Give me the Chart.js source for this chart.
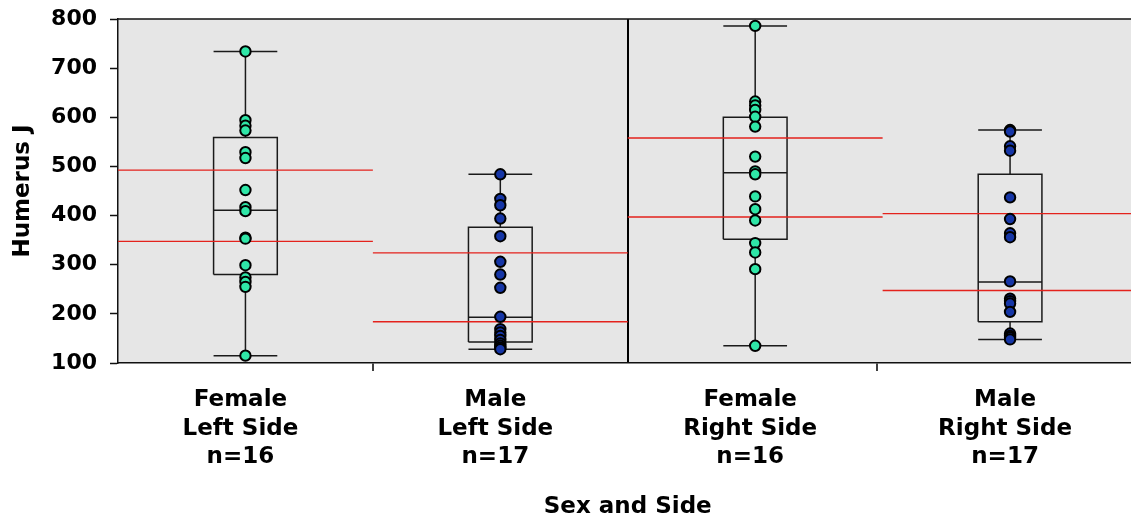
<!DOCTYPE html>
<html>
<head>
<meta charset="utf-8">
<title>Humerus J by sex and side</title>
<script src="https://cdn.jsdelivr.net/npm/chart.js@4/dist/chart.umd.min.js"></script>
<style>
  html, body { margin: 0; padding: 0; background: #ffffff; }
  #wrap { width: 1131px; height: 516px; }
</style>
</head>
<body>
<div id="wrap"><canvas id="chart" width="1131" height="516"></canvas></div>
<script>
// Groups along the x axis
const categories = [
  ['Female', 'Left Side', 'n=16'],
  ['Male', 'Left Side', 'n=17'],
  ['Female', 'Right Side', 'n=16'],
  ['Male', 'Right Side', 'n=17']
];

// Individual observations per group
const femaleLeft  = [734, 594, 583, 573, 529, 517, 452, 417, 409, 355, 353, 299, 274, 265, 255, 115];
const maleLeft    = [484, 434, 421, 394, 358, 306, 280, 253, 194, 169, 162, 155, 147, 140, 135, 131, 128];
const femaleRight = [786, 632, 624, 615, 601, 581, 520, 490, 484, 439, 413, 390, 344, 325, 291, 135];
const maleRight   = [574, 571, 541, 532, 437, 393, 364, 356, 266, 231, 226, 221, 204, 160, 155, 152, 148];

// Box summaries per group
const whiskerLow  = [115, 128, 135, 148];
const quartile1   = [280, 142.6, 352, 184];
const medians     = [411, 193, 487, 265];
const quartile3   = [559, 376, 600, 484];
const whiskerHigh = [734, 484, 786, 574];

// Interval around the group mean (red reference lines)
const intervalLow  = [347.5, 184, 397, 247.5];
const intervalHigh = [492.5, 324, 558, 404];

// Y axis ticks
const yTicks = [100, 200, 300, 400, 500, 600, 700, 800];

const groups = [femaleLeft, maleLeft, femaleRight, maleRight];
const FEMALE = '#2fe6a7';
const MALE = '#1636a6';
const groupColors = [FEMALE, MALE, FEMALE, MALE];

const HALF_BOX = 0.125;     // half box width in category units
const PANEL_OVERHANG = 6.5; // the last category runs slightly past the canvas edge
const SIDE_DIVIDER = 1.5;   // full-height line between left and right sides
const PAIR_TICKS = [0.5, 2.478]; // short marks between the sexes within each side
const GAP = (x) => ({ x: x, y: null });

// Box outlines, whiskers, caps and medians as one gapped polyline
const structure = [];
for (let i = 0; i < categories.length; i++) {
  const l = i - HALF_BOX, r = i + HALF_BOX;
  structure.push({x: l, y: quartile1[i]}, {x: r, y: quartile1[i]}, {x: r, y: quartile3[i]},
                 {x: l, y: quartile3[i]}, {x: l, y: quartile1[i]}, GAP(i));
  structure.push({x: l, y: medians[i]}, {x: r, y: medians[i]}, GAP(i));
  structure.push({x: i, y: whiskerLow[i]}, {x: i, y: quartile1[i]}, GAP(i));
  structure.push({x: i, y: quartile3[i]}, {x: i, y: whiskerHigh[i]}, GAP(i));
  structure.push({x: l, y: whiskerLow[i]}, {x: r, y: whiskerLow[i]}, GAP(i));
  structure.push({x: l, y: whiskerHigh[i]}, {x: r, y: whiskerHigh[i]}, GAP(i));
}

// Red interval lines spanning each category
const intervals = [];
for (let i = 0; i < categories.length; i++) {
  intervals.push({x: i - 0.5, y: intervalHigh[i]}, {x: i + 0.5, y: intervalHigh[i]}, GAP(i));
  intervals.push({x: i - 0.5, y: intervalLow[i]}, {x: i + 0.5, y: intervalLow[i]}, GAP(i));
}

const pointSets = groups.map((vals, i) => ({
  type: 'scatter',
  data: vals.map(v => ({x: i, y: v})),
  backgroundColor: groupColors[i],
  borderColor: '#000000',
  borderWidth: 2,
  pointRadius: 5.2,
  order: 0
}));

// Grey plot panel with a dark top edge; panel widened past the right edge
const panel = {
  id: 'panel',
  afterLayout(chart) {
    const xs = chart.scales.x;
    const right = chart.width + PANEL_OVERHANG;
    xs.right = right;
    xs.width = right - xs.left;
    xs.configure();
    chart.chartArea.right = right;
    chart.chartArea.width = right - chart.chartArea.left;
  },
  beforeDatasetsDraw(chart) {
    const {ctx, chartArea: a} = chart;
    ctx.save();
    ctx.strokeStyle = '#111111';
    ctx.lineWidth = 1.5;
    ctx.beginPath();
    ctx.moveTo(a.left, a.top);
    ctx.lineTo(a.right, a.top);
    ctx.stroke();
    ctx.restore();
  },
  beforeDraw(chart) {
    const {ctx, chartArea: a} = chart;
    ctx.save();
    ctx.fillStyle = '#e6e6e6';
    ctx.fillRect(a.left, a.top, a.right - a.left, a.bottom - a.top);
    ctx.restore();
  }
};

const boldFont = (size) => ({ family: 'DejaVu Sans', weight: 'bold', size: size });
const noScalePadding = (scale) => {
  scale.paddingLeft = 0; scale.paddingRight = 0;
  scale.paddingTop = 0; scale.paddingBottom = 0;
};

new Chart(document.getElementById('chart'), {
  type: 'scatter',
  data: {
    datasets: [
      ...pointSets,
      {
        type: 'line',
        data: intervals,
        borderColor: '#e4221c',
        borderWidth: 1.4,
        pointRadius: 0,
        spanGaps: false,
        order: 1
      },
      {
        type: 'line',
        data: structure,
        borderColor: '#1a1a1a',
        borderWidth: 1.5,
        pointRadius: 0,
        spanGaps: false,
        order: 2
      }
    ]
  },
  options: {
    responsive: false,
    animation: false,
    events: [],
    layout: { padding: { top: 19, right: 0, left: 0, bottom: 0 } },
    plugins: {
      legend: { display: false },
      tooltip: { enabled: false }
    },
    scales: {
      x: {
        type: 'linear',
        min: -0.5,
        max: 3.5,
        afterBuildTicks(scale) {
          const values = [0, 1, 2, 3, SIDE_DIVIDER, ...PAIR_TICKS].sort((a, b) => a - b);
          scale.ticks = values.map(v => ({ value: v }));
        },
        afterFit(scale) { scale.height = 153; noScalePadding(scale); },
        ticks: {
          autoSkip: false,
          maxRotation: 0,
          minRotation: 0,
          padding: 15,
          labelOffset: -5,
          color: '#000000',
          font: { ...boldFont(23), lineHeight: 1.24 },
          callback: (v) => Number.isInteger(v) ? categories[v] : ''
        },
        grid: {
          drawOnChartArea: true,
          drawTicks: true,
          tickLength: 8,
          lineWidth: 2,
          tickWidth: 1.5,
          color: (c) => (c.tick && c.tick.value === SIDE_DIVIDER) ? '#000000' : 'rgba(0,0,0,0)',
          tickColor: (c) => (c.tick && PAIR_TICKS.includes(c.tick.value)) ? '#000000' : 'rgba(0,0,0,0)'
        },
        border: { display: true, color: '#111111', width: 1.5 },
        title: {
          display: true,
          text: 'Sex and Side',
          color: '#000000',
          font: { ...boldFont(23), lineHeight: 0.75 },
          padding: { top: 0, bottom: 0 }
        }
      },
      y: {
        min: 100,
        max: 800,
        afterBuildTicks(scale) {
          scale.ticks = yTicks.map(v => ({ value: v }));
        },
        afterFit(scale) { scale.width = 118; noScalePadding(scale); },
        ticks: {
          padding: 13,
          color: '#000000',
          font: boldFont(22)
        },
        grid: {
          drawOnChartArea: false,
          drawTicks: true,
          tickLength: 8,
          tickWidth: 1.5,
          tickColor: '#111111'
        },
        border: { display: true, color: '#111111', width: 1.5 },
        title: {
          display: true,
          text: 'Humerus J',
          color: '#000000',
          font: { ...boldFont(23), lineHeight: 1.0 },
          padding: { top: 12, bottom: 0 }
        }
      }
    }
  },
  plugins: [panel]
});
</script>
</body>
</html>
